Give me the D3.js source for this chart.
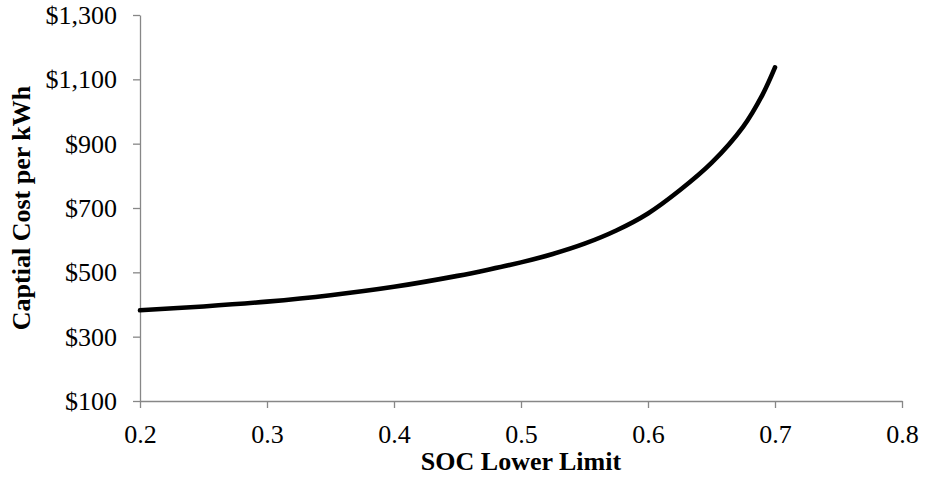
<!DOCTYPE html>
<html>
<head>
<meta charset="utf-8">
<script src="https://cdn.jsdelivr.net/npm/d3@7"></script>
<style>
  html, body { margin: 0; padding: 0; background: #fff; }
  svg { display: block; }
</style>
</head>
<body>
<svg id="chart" width="925" height="477"></svg>
<script>
// Data
const socLower    = [0.2, 0.25, 0.3, 0.35, 0.4, 0.45, 0.475, 0.5, 0.525, 0.55, 0.575, 0.6, 0.625, 0.65, 0.675, 0.69, 0.7];
const capitalCost = [382, 394, 409, 429, 455, 489, 509, 531, 557, 589, 630, 683, 755, 840, 953, 1051, 1137];
const xTickValues = [0.2, 0.3, 0.4, 0.5, 0.6, 0.7, 0.8];
const yTickValues = [100, 300, 500, 700, 900, 1100, 1300];
const xTitle = "SOC Lower Limit";
const yTitle = "Captial Cost per kWh";

(function () {
const svg = d3.select("#chart");
const mLeft = 140, mRight = 902, mTop = 15, mBottom = 401;
const axisColor = "#878787";
const fontFam = "'Liberation Serif', 'Times New Roman', serif";

const x = d3.scaleLinear().domain([0.2, 0.8]).range([mLeft, mRight]);
const y = d3.scaleLinear().domain([100, 1300]).range([mBottom, mTop]);

// Y axis
const yAxis = svg.append("g")
  .attr("transform", `translate(${mLeft},0)`)
  .call(d3.axisLeft(y).tickValues(yTickValues).tickFormat(d3.format("$,")).tickSize(7).tickSizeOuter(0).tickPadding(16));
yAxis.select(".domain").attr("stroke", axisColor).attr("stroke-width", 1.3);
yAxis.selectAll(".tick line").attr("stroke", axisColor).attr("stroke-width", 1.3);
yAxis.selectAll(".tick text").attr("fill", "#000").attr("font-family", fontFam).attr("font-size", 26).attr("dy", "0.33em");

// X axis
const xAxis = svg.append("g")
  .attr("transform", `translate(0,${mBottom})`)
  .call(d3.axisBottom(x).tickValues(xTickValues).tickFormat(d3.format(".1f")).tickSize(7).tickSizeOuter(0));
xAxis.select(".domain").attr("stroke", axisColor).attr("stroke-width", 1.3);
xAxis.selectAll(".tick line").attr("stroke", axisColor).attr("stroke-width", 1.3);
xAxis.selectAll(".tick text").attr("fill", "#000").attr("font-family", fontFam).attr("font-size", 26)
  .attr("y", 41.5).attr("dy", 0);

// Line
const pts = socLower.map((s, i) => [s, capitalCost[i]]);
const line = d3.line().x(d => x(d[0])).y(d => y(d[1])).curve(d3.curveCatmullRom.alpha(0.5));
svg.append("path")
  .datum(pts)
  .attr("d", line)
  .attr("fill", "none")
  .attr("stroke", "#000")
  .attr("stroke-width", 4.6)
  .attr("stroke-linecap", "round")
  .attr("stroke-linejoin", "round");

// Titles
svg.append("text")
  .attr("x", (mLeft + mRight) / 2).attr("y", 469.5)
  .attr("text-anchor", "middle")
  .attr("font-family", fontFam).attr("font-weight", "bold").attr("font-size", 26)
  .text(xTitle);

svg.append("text")
  .attr("transform", `translate(30,${(mTop + mBottom) / 2}) rotate(-90)`)
  .attr("text-anchor", "middle")
  .attr("font-family", fontFam).attr("font-weight", "bold").attr("font-size", 26)
  .text(yTitle);
})();
</script>
</body>
</html>
